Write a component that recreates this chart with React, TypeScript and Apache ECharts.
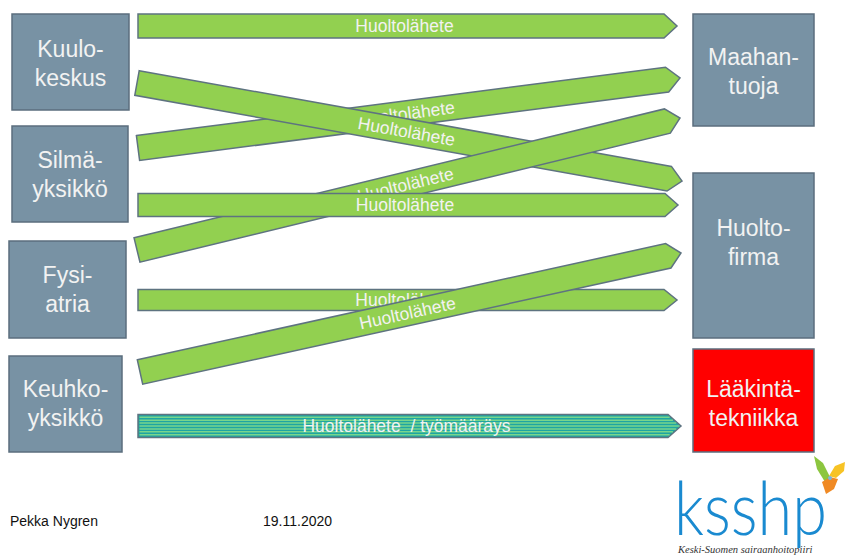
import React, { useEffect, useRef } from "react";
import * as echarts from "echarts";

// ---- content ----
const sourceUnits = ["Kuulo-\nkeskus", "Silmä-\nyksikkö", "Fysi-\natria", "Keuhko-\nyksikkö"];
const targetUnits = ["Maahan-\ntuoja", "Huolto-\nfirma", "Lääkintä-\ntekniikka"];
const flowFrom = [0, 0, 1, 1, 2, 2, 3, 3];
const flowTo = [0, 1, 0, 1, 0, 1, 1, 2];
const flowLabels = [
  "Huoltolähete",
  "Huoltolähete",
  "Huoltolähete",
  "Huoltolähete",
  "Huoltolähete",
  "Huoltolähete",
  "Huoltolähete",
  "Huoltolähete  / työmääräys",
];
const footerAuthor = "Pekka Nygren";
const footerDate = "19.11.2020";
const logoText = "ksshp";
const logoTagline = "Keski-Suomen sairaanhoitopiiri";

// ---- layout (positions / sizes) ----
const sourceBoxes = [
  { x: 12, y: 14, w: 117, h: 96, ty: 63 },
  { x: 12, y: 126, w: 116, h: 96, ty: 174.5 },
  { x: 9, y: 241, w: 117, h: 97, ty: 289 },
  { x: 9, y: 356, w: 113, h: 96, ty: 403.5 },
];
const targetBoxes = [
  { x: 693, y: 14, w: 121, h: 112, ty: 71 },
  { x: 693, y: 173, w: 121, h: 165, ty: 242 },
  { x: 693, y: 349, w: 121, h: 103, ty: 403 },
];
const flowGeom = [
  { sx: 138, sy: 26, tx: 677, ty: 26, hw: 12 },
  { sx: 137, sy: 83, tx: 682, ty: 181, hw: 12.5 },
  { sx: 138, sy: 148, tx: 680, ty: 78, hw: 12.5 },
  { sx: 138, sy: 205, tx: 678, ty: 205, hw: 11.5 },
  { sx: 137, sy: 250, tx: 680, ty: 118, hw: 12.5 },
  { sx: 138, sy: 300, tx: 677, ty: 300, hw: 10.5 },
  { sx: 140, sy: 372, tx: 681, ty: 253, hw: 12.5 },
  { sx: 138, sy: 426, tx: 681, ty: 426, hw: 11.5 },
];
const drawOrder = [2, 1, 4, 3, 5, 6, 0, 7];
const stripedFlow = 7;

const BOX_FILL = "#7892A4";
const BOX_STROKE = "#5B6E7D";
const ARROW_FILL = "#92D050";
const ARROW_STROKE = "#5E7380";
const TEAL = "#1FA5A2";
const STRIPE = "#78D68C";
const TEXT_LIGHT = "#F2F2F2";
const FONT = "'Liberation Sans', Arial, sans-serif";
const HEAD = 13;

function arrowElements(i: number): any[] {
  const g = flowGeom[i];
  const dx = g.tx - g.sx;
  const dy = g.ty - g.sy;
  const len = Math.sqrt(dx * dx + dy * dy);
  const ux = dx / len;
  const uy = dy / len;
  const nx = uy;
  const ny = -ux;
  const bx = g.tx - ux * HEAD;
  const by = g.ty - uy * HEAD;
  const pts = [
    [g.sx + nx * g.hw, g.sy + ny * g.hw],
    [bx + nx * g.hw, by + ny * g.hw],
    [g.tx, g.ty],
    [bx - nx * g.hw, by - ny * g.hw],
    [g.sx - nx * g.hw, g.sy - ny * g.hw],
  ];
  const striped = i === stripedFlow;
  const els: any[] = [
    {
      type: "polygon",
      shape: { points: pts },
      style: { fill: striped ? TEAL : ARROW_FILL, stroke: ARROW_STROKE, lineWidth: 1.5 },
    },
  ];
  if (striped) {
    const offs = [-8.7, -5.8, -2.9, 0, 2.9, 5.8, 8.7];
    offs.forEach((o) => {
      const endX = bx + HEAD * (1 - Math.abs(o) / g.hw) - 1.5;
      els.push({
        type: "line",
        shape: { x1: g.sx + 1.5, y1: g.sy + o, x2: endX, y2: g.sy + o },
        style: { stroke: STRIPE, lineWidth: 1.5 },
      });
    });
  }
  const mx = (g.sx + g.tx) / 2 - 3;
  const my = (g.sy + g.ty) / 2 - (dy / dx) * 3;
  els.push({
    type: "text",
    x: mx,
    y: my,
    rotation: -Math.atan2(dy, dx),
    style: {
      text: flowLabels[i],
      x: 0,
      y: 0,
      align: "center",
      verticalAlign: "middle",
      fill: TEXT_LIGHT,
      fontSize: 17.5,
      fontFamily: FONT,
    },
  });
  return els;
}

function boxElements(b: any, label: string, fill: string): any[] {
  return [
    {
      type: "rect",
      shape: { x: b.x, y: b.y, width: b.w, height: b.h },
      style: { fill, stroke: BOX_STROKE, lineWidth: 1.5 },
    },
    {
      type: "text",
      style: {
        text: label,
        x: b.x + b.w / 2,
        y: b.ty,
        align: "center",
        verticalAlign: "middle",
        fill: TEXT_LIGHT,
        fontSize: 23,
        lineHeight: 29,
        fontFamily: FONT,
      },
    },
  ];
}

export default function App() {
  const ref = useRef<HTMLDivElement>(null);
  useEffect(() => {
    if (!ref.current) return;
    const chart = echarts.init(ref.current, undefined, { renderer: "svg" });
    const elements: any[] = [];
    sourceBoxes.forEach((b, i) => elements.push(...boxElements(b, sourceUnits[i], BOX_FILL)));
    targetBoxes.forEach((b, i) =>
      elements.push(...boxElements(b, targetUnits[i], i === 2 ? "#FF0000" : BOX_FILL))
    );
    drawOrder.forEach((i) => {
      void flowFrom[i];
      void flowTo[i];
      elements.push(...arrowElements(i));
    });
    // footer
    elements.push({
      type: "text",
      style: { text: footerAuthor, x: 10, y: 521, verticalAlign: "middle", fill: "#111", fontSize: 14, fontFamily: FONT },
    });
    elements.push({
      type: "text",
      style: { text: footerDate, x: 263, y: 521, verticalAlign: "middle", fill: "#111", fontSize: 14, fontFamily: FONT },
    });
    // logo
    elements.push({
      type: "text",
      x: 674,
      y: 506,
      scaleX: 1.0,
      scaleY: 1.2,
      style: {
        text: logoText,
        x: 0,
        y: 0,
        align: "left",
        verticalAlign: "middle",
        fill: "#1A8AD0",
        fontSize: 63,
        fontWeight: 300,
        fontFamily: "Lato, 'Open Sans', sans-serif",
      },
    });
    elements.push({
      type: "text",
      style: {
        text: logoTagline,
        x: 678,
        y: 549,
        verticalAlign: "middle",
        fill: "#333",
        fontSize: 10.5,
        fontStyle: "italic",
        fontFamily: "'Liberation Serif', 'DejaVu Serif', serif",
      },
    });
    // butterfly
    elements.push({
      type: "polygon",
      shape: { points: [[814, 456], [823, 463], [830, 477], [825, 482], [817, 469]] },
      style: { fill: "#8CC63F" },
    });
    elements.push({
      type: "polygon",
      shape: { points: [[829, 476], [835, 466], [845, 462], [844, 471], [836, 478]] },
      style: { fill: "#F7C325" },
    });
    elements.push({
      type: "polygon",
      shape: { points: [[822, 482], [830, 477], [838, 479], [834, 489], [826, 494]] },
      style: { fill: "#F08A24" },
    });
    elements.push({
      type: "circle",
      shape: { cx: 830, cy: 478, r: 2 },
      style: { fill: "#7FB3D8" },
    });

    chart.setOption({
      animation: false,
      backgroundColor: "#ffffff",
      graphic: { elements },
    });
    return () => chart.dispose();
  }, []);
  return (
    <div
      ref={ref}
      style={{ position: "fixed", left: 0, top: 0, width: 845, height: 556, background: "#fff" }}
    />
  );
}
